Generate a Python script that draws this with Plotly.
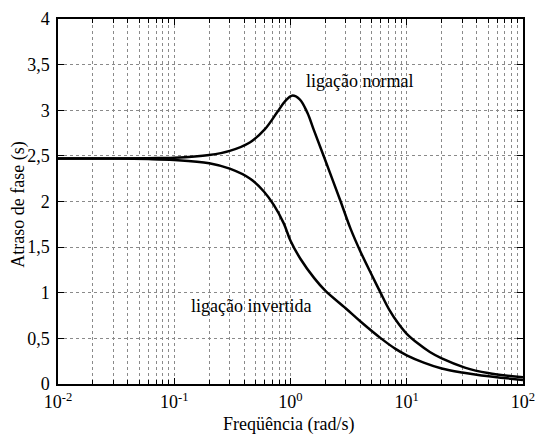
import math
import plotly.graph_objects as go

# Frequency (rad/s) and phase delay (s)
freq_normal = [0.01, 0.03, 0.06, 0.1, 0.2, 0.3, 0.45, 0.6, 0.77, 0.9, 1.03, 1.2, 1.4, 1.58,
               1.94, 2.7, 3.29, 4.0, 5.0, 5.9, 7.1, 8.5, 10, 12.6, 15.8, 20, 31.6, 50, 100]
delay_normal = [2.47, 2.47, 2.475, 2.48, 2.51, 2.555, 2.65, 2.79, 2.98, 3.10, 3.16, 3.12, 2.97, 2.79,
                2.49, 2.0, 1.70, 1.45, 1.195, 1.01, 0.81, 0.66, 0.55, 0.44, 0.35, 0.28, 0.18, 0.12, 0.073]

freq_invert = [0.01, 0.03, 0.06, 0.1, 0.2, 0.3, 0.45, 0.59, 0.72, 0.875, 1.0, 1.22, 1.6,
               2.0, 2.98, 4.0, 6.0, 8.0, 10, 14, 20, 30, 44, 100]
delay_invert = [2.47, 2.47, 2.465, 2.455, 2.42, 2.36, 2.25, 2.11, 1.96, 1.76, 1.57, 1.37, 1.16,
                1.02, 0.83, 0.685, 0.50, 0.385, 0.315, 0.235, 0.17, 0.125, 0.093, 0.045]

x_tickvals = [0.01, 0.1, 1, 10, 100]
x_ticktext = ["10<sup>-2</sup>", "10<sup>-1</sup>", "10<sup>0</sup>", "10<sup>1</sup>", "10<sup>2</sup>"]
x_minorvals = [m * d for d in [0.01, 0.1, 1, 10] for m in range(2, 10)]
y_tickvals = [0, 0.5, 1, 1.5, 2, 2.5, 3, 3.5, 4]
y_ticktext = ["0", "0,5", "1", "1,5", "2", "2,5", "3", "3,5", "4"]

label_normal = ("ligação normal", 3.94, 3.32)
label_invert = ("ligação invertida", 0.457, 0.85)
x_title = "Freqüência (rad/s)"
y_title = "Atraso de fase (s)"

FONT = "Liberation Serif"

fig = go.Figure()
fig.add_trace(go.Scatter(x=freq_normal, y=delay_normal, mode="lines",
                         line=dict(color="black", width=2.5, shape="spline", smoothing=1.0),
                         showlegend=False))
fig.add_trace(go.Scatter(x=freq_invert, y=delay_invert, mode="lines",
                         line=dict(color="black", width=2.5, shape="spline", smoothing=1.0),
                         showlegend=False))

for text, xv, yv in (label_normal, label_invert):
    fig.add_annotation(x=math.log10(xv), y=yv, xref="x", yref="y", text=text,
                       showarrow=False, font=dict(family=FONT, size=18, color="black"))

# axis titles
fig.add_annotation(x=0.495, y=0, xref="paper", yref="paper", yanchor="top", yshift=-28,
                   text=x_title, showarrow=False, font=dict(family=FONT, size=18, color="black"))
fig.add_annotation(x=0, y=0.49, xref="paper", yref="paper", xanchor="right", xshift=-27,
                   text=y_title, textangle=-90, showarrow=False,
                   font=dict(family=FONT, size=18, color="black"))

grid_color = "#8a8a8a"
fig.update_xaxes(type="log", range=[-2, 2], tickmode="array", tickvals=x_tickvals, ticktext=x_ticktext,
                 showline=True, linecolor="black", linewidth=1.5, mirror="allticks",
                 ticks="inside", ticklen=6, tickcolor="black",
                 showgrid=True, gridcolor=grid_color, griddash="dot", gridwidth=1,
                 minor=dict(tickmode="array", tickvals=x_minorvals, ticks="inside", ticklen=4,
                            tickcolor="black", showgrid=True, gridcolor=grid_color,
                            griddash="dot", gridwidth=1),
                 zeroline=False, ticklabelstandoff=1, automargin=False,
                 ticklabeloverflow="allow",
                 tickfont=dict(family=FONT, size=18, color="black"))
fig.update_yaxes(range=[0, 4], tickmode="array", tickvals=y_tickvals, ticktext=y_ticktext,
                 showline=True, linecolor="black", linewidth=1.5, mirror="allticks",
                 ticks="inside", ticklen=6, tickcolor="black",
                 showgrid=True, gridcolor=grid_color, griddash="dot", gridwidth=1,
                 zeroline=False, ticklabelstandoff=3, automargin=False,
                 ticklabeloverflow="allow",
                 tickfont=dict(family=FONT, size=18, color="black"))

fig.update_layout(width=535, height=435, margin=dict(l=58, r=12, t=19, b=51),
                  plot_bgcolor="white", paper_bgcolor="white",
                  font=dict(family=FONT, size=18, color="black"))

fig.write_html("out.html")
